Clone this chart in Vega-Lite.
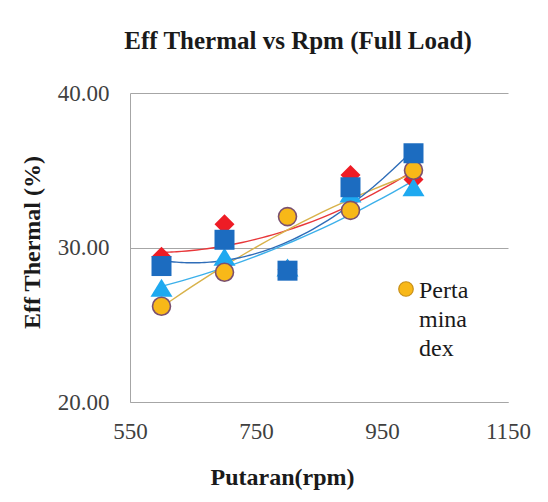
{
  "$schema": "https://vega.github.io/schema/vega-lite/v6.json",
  "width": 378,
  "height": 309,
  "autosize": {"type": "none"},
  "padding": {"left": 130, "top": 93, "right": 40, "bottom": 100},
  "background": "white",
  "config": {
    "view": {"stroke": null},
    "font": "Liberation Serif",
    "style": {"guide-label": {"lineHeight": 29, "dy": 9}}
  },
  "title": {
    "text": "Eff Thermal vs Rpm (Full Load)",
    "font": "Liberation Serif",
    "fontSize": 25,
    "fontWeight": "bold",
    "color": "#1a1a1a",
    "frame": "group",
    "anchor": "middle",
    "dx": -21,
    "offset": 28
  },
  "data": {
    "values": [
      {"series": "Solar", "rpm": 600, "eff": 29.4},
      {"series": "Solar", "rpm": 700, "eff": 31.5},
      {"series": "Solar", "rpm": 800, "eff": 28.6},
      {"series": "Solar", "rpm": 900, "eff": 34.7},
      {"series": "Solar", "rpm": 1000, "eff": 34.4},
      {"series": "Biosolar", "rpm": 600, "eff": 27.4},
      {"series": "Biosolar", "rpm": 700, "eff": 29.4},
      {"series": "Biosolar", "rpm": 800, "eff": 28.7},
      {"series": "Biosolar", "rpm": 900, "eff": 33.5},
      {"series": "Biosolar", "rpm": 1000, "eff": 33.9},
      {"series": "Pertamina dex", "rpm": 600, "eff": 26.2},
      {"series": "Pertamina dex", "rpm": 700, "eff": 28.4},
      {"series": "Pertamina dex", "rpm": 800, "eff": 32.0},
      {"series": "Pertamina dex", "rpm": 900, "eff": 32.4},
      {"series": "Pertamina dex", "rpm": 1000, "eff": 35.0},
      {"series": "Dexlite", "rpm": 600, "eff": 28.8},
      {"series": "Dexlite", "rpm": 700, "eff": 30.5},
      {"series": "Dexlite", "rpm": 800, "eff": 28.5},
      {"series": "Dexlite", "rpm": 900, "eff": 33.9},
      {"series": "Dexlite", "rpm": 1000, "eff": 36.1}
    ]
  },
  "layer": [
    {
      "transform": [
        {"regression": "eff", "on": "rpm", "groupby": ["series"], "method": "poly", "order": 2, "extent": [600, 1000]}
      ],
      "mark": {"type": "line", "strokeWidth": 1.4},
      "encoding": {
        "x": {"field": "rpm", "type": "quantitative"},
        "y": {"field": "eff", "type": "quantitative"},
        "stroke": {
          "field": "series",
          "type": "nominal",
          "scale": {"domain": ["Solar", "Biosolar", "Pertamina dex", "Dexlite", "zz"], "range": ["#e8373a", "#3cb0ea", "#d8b24a", "#2f6db8", "#000000"]},
          "legend": null
        }
      }
    },
    {
      "mark": {"type": "point", "filled": true, "opacity": 1, "size": 400, "strokeWidth": 1.6},
      "encoding": {
        "x": {
          "field": "rpm",
          "type": "quantitative",
          "scale": {"domain": [550, 1150], "nice": false, "zero": false},
          "axis": {
            "values": [550, 750, 950, 1150],
            "format": "d",
            "title": "Putaran(rpm)",
            "titleFont": "Liberation Serif",
            "titleFontSize": 24,
            "titleFontWeight": "bold",
            "titleColor": "#1a1a1a",
            "titleX": 152,
            "titleY": 75,
            "titleBaseline": "middle",
            "titleAnchor": "middle",
            "labelFont": "Liberation Serif",
            "labelFontSize": 23,
            "labelColor": "#404040",
            "labelPadding": 9,
            "ticks": false,
            "grid": false,
            "domainColor": "#a6a6a6",
            "labelFlush": false
          }
        },
        "y": {
          "field": "eff",
          "type": "quantitative",
          "scale": {"domain": [20, 40], "nice": false, "zero": false},
          "axis": {
            "values": [20, 30, 40],
            "format": ".2f",
            "title": "Eff Thermal  (%)",
            "titleFont": "Liberation Serif",
            "titleFontSize": 24,
            "titleFontWeight": "bold",
            "titleColor": "#1a1a1a",
            "titleX": -98,
            "titleY": 149,
            "titleAngle": -90,
            "titleBaseline": "middle",
            "titleAnchor": "middle",
            "labelFont": "Liberation Serif",
            "labelFontSize": 23,
            "labelColor": "#404040",
            "labelPadding": 21,
            "labelOffset": -9,
            "ticks": false,
            "grid": true,
            "gridColor": "#a6a6a6",
            "gridWidth": 1,
            "domainColor": "#a6a6a6"
          }
        },
        "color": {
          "field": "series",
          "type": "nominal",
          "scale": {"domain": ["Solar", "Biosolar", "Pertamina dex", "Dexlite"], "range": ["#ee1c25", "#1ea9f0", "#f8b818", "#1c6cc0"]},
          "legend": {
            "values": ["Pertamina dex"],
            "title": null,
            "orient": "none",
            "legendX": 264,
            "legendY": 184,
            "labelFont": "Liberation Serif",
            "labelFontSize": 24,
            "labelColor": "#1a1a1a",
            "labelLimit": 300,
            "labelOffset": 1,
            "labelBaseline": "alphabetic",
            "labelExpr": "datum.label == 'Pertamina dex' ? ['Perta', 'mina', 'dex'] : datum.label",
            "symbolSize": 260,
            "symbolStrokeColor": "#c8901a",
            "symbolStrokeWidth": 1.2
          }
        },
        "shape": {
          "field": "series",
          "type": "nominal",
          "scale": {
            "domain": ["Solar", "Biosolar", "Pertamina dex", "Dexlite"],
            "range": [
              "M-1,0L0,-1L1,0L0,1Z",
              "M0,-0.9L1.1,0.9L-1.1,0.9Z",
              "M-0.9,0A0.9,0.9 0 1,0 0.9,0A0.9,0.9 0 1,0 -0.9,0Z",
              "M-1,-1H1V1H-1Z"
            ]
          },
          "legend": {
            "values": ["Pertamina dex"],
            "title": null,
            "orient": "none",
            "legendX": 264,
            "legendY": 184,
            "labelFont": "Liberation Serif",
            "labelFontSize": 24,
            "labelColor": "#1a1a1a",
            "labelLimit": 300,
            "labelOffset": 1,
            "labelBaseline": "alphabetic",
            "labelExpr": "datum.label == 'Pertamina dex' ? ['Perta', 'mina', 'dex'] : datum.label",
            "symbolSize": 260,
            "symbolStrokeColor": "#c8901a",
            "symbolStrokeWidth": 1.2
          }
        },
        "stroke": {
          "condition": {"test": "datum.series === 'Pertamina dex'", "value": "#7a5070"},
          "value": "transparent"
        }
      }
    }
  ]
}
